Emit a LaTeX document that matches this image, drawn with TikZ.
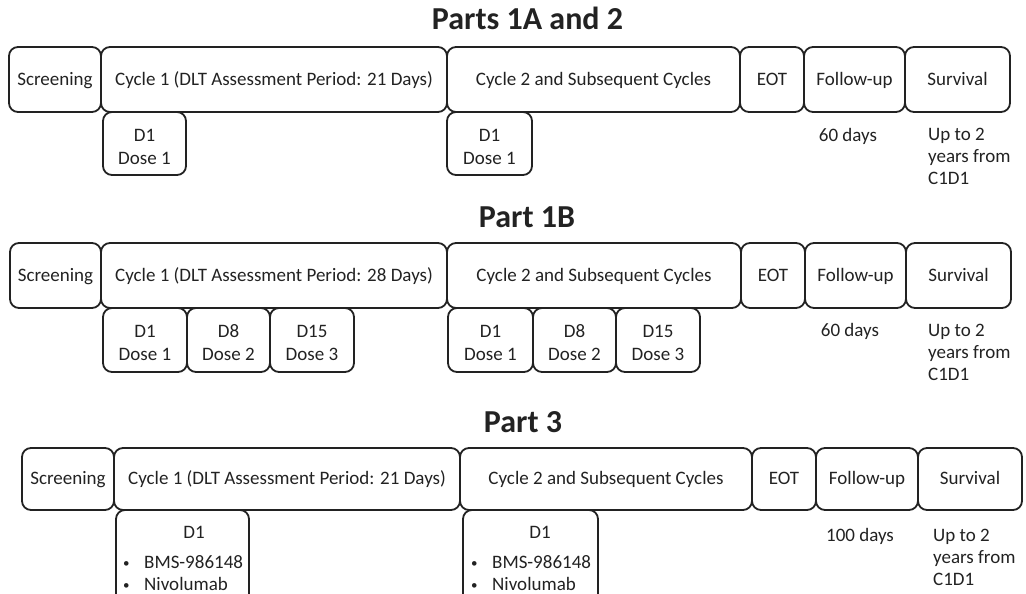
\documentclass[tikz,border=0pt]{standalone}
\usepackage{fontspec}
\setmainfont{Carlito}
\definecolor{ink}{HTML}{222222}
\newcommand\pbox[6]{\node[box, text height=15pt, text depth=4pt, minimum width={(#4-#2)*1pt}, minimum height={(#5-#3)*1pt}] (#1) at ({(#2+#4)/2},{(#3+#5)/2}) {#6};}
\newcommand\dbox[6]{\node[box, minimum width={(#4-#2)*1pt}, minimum height={(#5-#3)*1pt}] (#1) at ({(#2+#4)/2},{(#3+#5)/2}) {\rule{0pt}{19pt}#6};}
\newcommand\bul{\makebox[21pt][l]{\raisebox{1pt}{\fontsize{13}{13}\selectfont\textbullet}}}
\begin{document}
\begin{tikzpicture}[x=1pt,y=-1pt,
  box/.style={draw=ink, line width=1.8pt, rounded corners=9pt, inner sep=0pt, text=ink, font=\fontsize{19}{23}\selectfont, align=center},
  ttl/.style={font=\bfseries\fontsize{32}{36}\selectfont, text=ink, anchor=base, inner sep=0pt},
  lbl/.style={font=\fontsize{19}{22}\selectfont, text=ink, inner sep=0pt, align=left, anchor=base west},
  clbl/.style={font=\fontsize{19}{22}\selectfont, text=ink, inner sep=0pt, anchor=base}]
\useasboundingbox (0,0) rectangle (1026,594);
% ---------- Parts 1A and 2
\node[ttl] (t1) at (527.5,30) {Parts 1A and 2};
\pbox{a1}{9}{47}{101}{112}{Screening}
\pbox{a2}{101}{47}{447}{112}{Cycle 1 (DLT Assessment Period: 21 Days)}
\pbox{a3}{447}{47}{740}{112}{Cycle 2 and Subsequent Cycles}
\pbox{a4}{740}{47}{804}{112}{EOT}
\pbox{a5}{804}{47}{905}{112}{Follow-up}
\pbox{a6}{905}{47}{1010}{112}{Survival}
\dbox{ad1}{103}{112}{186}{175}{D1\\Dose 1}
\dbox{ad2}{447}{112}{532}{175}{D1\\Dose 1}
\node[clbl] (afu) at (848,141) {60 days};
\node[lbl] (asv) at (928,184) {Up to 2\\years from\\C1D1};
% ---------- Part 1B
\node[ttl] (t2) at (527,227) {Part 1B};
\pbox{b1}{10}{243}{101}{308}{Screening}
\pbox{b2}{101}{243}{447}{308}{Cycle 1 (DLT Assessment Period: 28 Days)}
\pbox{b3}{447}{243}{741}{308}{Cycle 2 and Subsequent Cycles}
\pbox{b4}{741}{243}{805}{308}{EOT}
\pbox{b5}{805}{243}{906}{308}{Follow-up}
\pbox{b6}{906}{243}{1011}{308}{Survival}
\dbox{bd1}{103}{308}{187}{372}{D1\\Dose 1}
\dbox{bd2}{187}{308}{270}{372}{D8\\Dose 2}
\dbox{bd3}{270}{308}{354}{372}{D15\\Dose 3}
\dbox{bd4}{448}{308}{533}{372}{D1\\Dose 1}
\dbox{bd5}{533}{308}{616}{372}{D8\\Dose 2}
\dbox{bd6}{616}{308}{700}{372}{D15\\Dose 3}
\node[clbl] (bfu) at (850,336) {60 days};
\node[lbl] (bsv) at (928,380) {Up to 2\\years from\\C1D1};
% ---------- Part 3
\node[ttl] (t3) at (523,432) {Part 3};
\pbox{c1}{22}{448}{114}{510}{Screening}
\pbox{c2}{114}{448}{460}{510}{Cycle 1 (DLT Assessment Period: 21 Days)}
\pbox{c3}{460}{448}{752}{510}{Cycle 2 and Subsequent Cycles}
\pbox{c4}{752}{448}{816}{510}{EOT}
\pbox{c5}{816}{448}{918}{510}{Follow-up}
\pbox{c6}{918}{448}{1022}{510}{Survival}
\node[box, minimum width=133pt, minimum height=94pt] (cd1) at (182.5,557) {};
\node[box, minimum width=135pt, minimum height=94pt] (cd2) at (530.5,557) {};
\node[clbl] (cd1h) at (194,538) {D1};
\node[lbl] (cd1t) at (123,590) {\bul BMS-986148\\\bul Nivolumab};
\node[clbl] (cd2h) at (540,538) {D1};
\node[lbl] (cd2t) at (471,590) {\bul BMS-986148\\\bul Nivolumab};
\node[clbl] (cfu) at (860,541) {100 days};
\node[lbl] (csv) at (933,585) {Up to 2\\years from\\C1D1};
\end{tikzpicture}
\end{document}
